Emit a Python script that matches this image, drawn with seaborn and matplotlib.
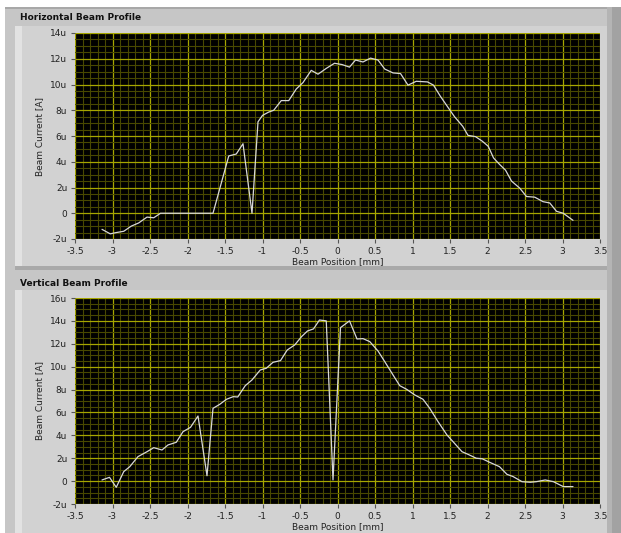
import numpy as np
import pandas as pd
import matplotlib
matplotlib.use("Agg")
import matplotlib.pyplot as plt
import matplotlib.patches as mpatches
from matplotlib.ticker import MultipleLocator, FuncFormatter
import seaborn as sns

# ---------------- data (beam current in micro-amps) ----------------
h_pos = [-3.14, -3.03, -2.95, -2.85, -2.75, -2.65, -2.54, -2.45, -2.36, -1.66,
         -1.45, -1.35, -1.26, -1.14, -1.06, -1.00, -0.92, -0.85, -0.75, -0.65,
         -0.55, -0.46, -0.35, -0.26, -0.15, -0.04, 0.06, 0.16, 0.24, 0.34,
         0.44, 0.54, 0.63, 0.74, 0.84, 0.94, 1.05, 1.20, 1.28, 1.37,
         1.50, 1.56, 1.67, 1.74, 1.84, 1.93, 2.01, 2.08, 2.16, 2.24,
         2.32, 2.43, 2.52, 2.63, 2.74, 2.83, 2.92, 3.01, 3.14]
h_cur = [-1.25, -1.6, -1.5, -1.4, -1.0, -0.75, -0.3, -0.35, 0.0, 0.0,
         4.45, 4.6, 5.4, 0.0, 7.1, 7.6, 7.85, 8.0, 8.75, 8.75,
         9.65, 10.15, 11.1, 10.8, 11.25, 11.65, 11.55, 11.35, 11.9, 11.75,
         12.05, 11.9, 11.2, 10.9, 10.85, 9.95, 10.25, 10.2, 9.95, 9.1,
         8.0, 7.5, 6.75, 6.05, 5.95, 5.6, 5.2, 4.3, 3.8, 3.35,
         2.5, 1.95, 1.3, 1.25, 0.9, 0.8, 0.15, 0.0, -0.55]

v_pos = [-3.14, -3.04, -2.95, -2.85, -2.77, -2.66, -2.54, -2.45, -2.34, -2.26,
         -2.15, -2.06, -1.96, -1.86, -1.74, -1.66, -1.57, -1.48, -1.39, -1.33,
         -1.23, -1.14, -1.03, -0.95, -0.86, -0.76, -0.67, -0.57, -0.48, -0.40,
         -0.32, -0.24, -0.15, -0.06, 0.04, 0.16, 0.26, 0.34, 0.43, 0.54,
         0.63, 0.74, 0.83, 0.92, 1.03, 1.14, 1.23, 1.34, 1.46, 1.54,
         1.66, 1.74, 1.85, 1.93, 2.03, 2.16, 2.26, 2.34, 2.46, 2.57,
         2.65, 2.77, 2.88, 3.01, 3.14]
v_cur = [0.1, 0.33, -0.54, 0.83, 1.26, 2.14, 2.57, 2.92, 2.72, 3.16,
         3.39, 4.32, 4.7, 5.69, 0.47, 6.36, 6.71, 7.15, 7.38, 7.35,
         8.34, 8.84, 9.71, 9.86, 10.38, 10.53, 11.46, 11.9, 12.62, 13.12,
         13.3, 14.08, 14.0, 0.1, 13.41, 14.0, 12.42, 12.45, 12.19, 11.37,
         10.44, 9.28, 8.34, 8.03, 7.53, 7.15, 6.36, 5.2, 4.03, 3.45,
         2.57, 2.34, 2.0, 1.95, 1.64, 1.26, 0.59, 0.4, -0.05, -0.1,
         -0.05, 0.1, -0.05, -0.48, -0.48]

titles = ["Horizontal Beam Profile", "Vertical Beam Profile"]
y_limits = [(-2, 14), (-2, 16)]
x_label = "Beam Position [mm]"
y_label = "Beam Current [A]"

# ---------------- figure ----------------
W, H = 621, 533
DPI = 100
sns.set_style("dark")
plt.rcParams["font.family"] = ["DejaVu Sans"]
fig = plt.figure(figsize=(W / DPI, H / DPI), dpi=DPI, facecolor="white")

def px_rect(x0, y0, x1, y1, color, z=-10):
    fig.patches.append(mpatches.Rectangle((x0 / W, 1 - y1 / H), (x1 - x0) / W, (y1 - y0) / H,
                                          transform=fig.transFigure, facecolor=color,
                                          edgecolor="none", zorder=z))

# outer frame
px_rect(5, 7, 621, 533, "#c6c6c6")
px_rect(607, 7, 621, 533, "#b4b4b4")
px_rect(612, 7, 621, 533, "#a2a2a2")
# top panel
px_rect(5, 7, 607, 9, "#a8a8a8")
px_rect(15, 26, 607, 268, "#d2d2d2")
px_rect(15, 26, 22, 268, "#e2e2e2")
px_rect(15, 266, 607, 270, "#a9a9a9")
# bottom panel
px_rect(15, 290, 607, 533, "#d2d2d2")
px_rect(15, 290, 22, 533, "#e2e2e2")

panel_title_y = [17, 283]
axes_boxes = [(75, 33, 600, 239), (75, 298, 600, 504)]

frames = [pd.DataFrame({"pos": h_pos, "cur": h_cur}),
          pd.DataFrame({"pos": v_pos, "cur": v_cur})]

fmt = FuncFormatter(lambda v, p: "0" if abs(v) < 1e-9 else f"{v:.0f}u")

for i in range(2):
    x0, y0, x1, y1 = axes_boxes[i]
    ax = fig.add_axes([x0 / W, 1 - y1 / H, (x1 - x0) / W, (y1 - y0) / H])
    ax.set_facecolor("black")
    sns.lineplot(data=frames[i], x="pos", y="cur", ax=ax, sort=False,
                 color="#d8d8d8", linewidth=0.9, zorder=5)
    ax.set_xlim(-3.5, 3.5)
    ax.set_ylim(*y_limits[i])
    ax.xaxis.set_major_locator(MultipleLocator(0.5))
    ax.xaxis.set_minor_locator(MultipleLocator(0.1))
    ax.yaxis.set_major_locator(MultipleLocator(2))
    ax.yaxis.set_minor_locator(MultipleLocator(0.5))
    ax.yaxis.set_major_formatter(fmt)
    ax.xaxis.set_major_formatter(FuncFormatter(lambda v, p: f"{v:g}"))
    ax.grid(True, which="minor", color="#484800", linewidth=0.8)
    ax.grid(True, which="major", color="#a6a600", linewidth=0.9)
    ax.set_axisbelow(True)
    for s in ax.spines.values():
        s.set_visible(False)
    ax.tick_params(which="major", length=3, width=0.8, color="#555555",
                   labelsize=6.5, labelcolor="#222222", pad=2.5, bottom=True, left=True)
    ax.tick_params(which="minor", length=0)
    ax.set_xlabel(x_label, fontsize=6.5, color="#222222", labelpad=1)
    ax.set_ylabel(y_label, fontsize=6.5, color="#222222", labelpad=4)
    fig.text(20 / W, 1 - panel_title_y[i] / H, titles[i], fontsize=6.5,
             fontweight="bold", color="#111111", ha="left", va="center")

fig.savefig("out.png", dpi=DPI, facecolor="white")
